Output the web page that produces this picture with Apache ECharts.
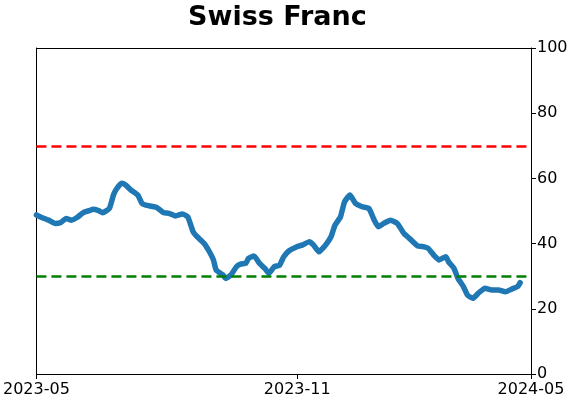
<!DOCTYPE html>
<html>
<head>
<meta charset="utf-8">
<script src="https://cdn.jsdelivr.net/npm/echarts@6/dist/echarts.min.js"></script>
<style>
  html, body { margin: 0; padding: 0; background: #fff; }
  #chart { width: 571px; height: 402px; }
</style>
</head>
<body>
<div id="chart"></div>
<script>
// days since 2023-05-01 and the indicator reading on that day
const days = [0, 4, 9, 14, 18, 22, 26, 30, 35, 39, 42, 46, 49, 54, 57, 59, 63, 66, 70,
  75, 78, 81, 89, 94, 98, 103, 108, 112, 116, 119, 124, 128, 131, 133, 138, 140, 144,
  148, 151, 155, 157, 161, 165, 169, 172, 176, 180, 183, 187, 192, 197, 202, 205, 209,
  214, 218, 221, 225, 228, 232, 236, 241, 246, 250, 253, 257, 262, 267, 272, 276, 282,
  287, 290, 294, 298, 303, 305, 309, 312, 316, 319, 323, 327, 332, 337, 342, 347, 352,
  356, 358]
const values = [48.8, 48.0, 47.2, 46.2, 46.5, 47.7, 47.2, 48.0, 49.6, 50.1, 50.5, 50.1,
  49.5, 50.8, 54.9, 56.6, 58.5, 58.0, 56.4, 54.9, 52.4, 51.8, 51.1, 49.5, 49.3, 48.5,
  49.1, 48.2, 43.6, 42.1, 40.1, 37.5, 35.0, 31.9, 30.4, 29.3, 30.4, 32.9, 33.7, 34.0,
  35.5, 36.2, 34.0, 32.4, 30.9, 32.9, 33.4, 36.0, 37.8, 38.9, 39.6, 40.6, 39.6, 37.5,
  39.6, 42.1, 45.7, 48.2, 52.8, 54.9, 52.4, 51.3, 50.8, 47.2, 45.2, 46.2, 47.2, 46.2,
  43.1, 41.6, 39.3, 39.0, 38.5, 36.5, 35.0, 36.0, 34.4, 32.4, 29.3, 26.8, 24.2, 23.2,
  24.8, 26.3, 25.8, 25.8, 25.2, 26.1, 26.8, 28.0]
const tickDays = [0, 193, 366]
const tickLabels = ['2023-05', '2023-11', '2024-05']
const upperLevel = 70
const lowerLevel = 30

const chart = echarts.init(document.getElementById('chart'), null, { renderer: 'canvas' })
const font = 'DejaVu Sans'
const spine = { show: true, onZero: false, lineStyle: { color: '#000', width: 1 } }

chart.setOption({
  animation: false,
  title: {
    text: 'Swiss Franc',
    left: 183, top: -1,
    textStyle: { fontFamily: font, fontWeight: 'bold', fontSize: 27, color: '#000' }
  },
  grid: { left: 35, right: 40, top: 48, bottom: 28 },
  xAxis: [{
    type: 'value', min: 0, max: 366, position: 'bottom',
    axisLine: spine,
    axisTick: { show: true, inside: false, customValues: tickDays, length: 5, lineStyle: { color: '#000' } },
    axisLabel: {
      customValues: tickDays, margin: 8,
      fontFamily: font, fontSize: 16, color: '#000',
      formatter: v => tickLabels[tickDays.indexOf(v)]
    },
    splitLine: { show: false }
  }, {
    // top spine
    type: 'value', min: 0, max: 366, position: 'top',
    axisLine: spine, axisTick: { show: false }, axisLabel: { show: false }, splitLine: { show: false }
  }],
  yAxis: [{
    type: 'value', position: 'right', min: 0, max: 100, interval: 20,
    axisLine: spine,
    axisTick: { show: true, inside: false, length: 5, lineStyle: { color: '#000' } },
    axisLabel: { margin: 6, fontFamily: font, fontSize: 16, color: '#000' },
    splitLine: { show: false }
  }, {
    // left spine
    type: 'value', position: 'left', min: 0, max: 100,
    axisLine: spine, axisTick: { show: false }, axisLabel: { show: false }, splitLine: { show: false }
  }],
  series: [{
    type: 'line',
    data: days.map((d, i) => [d, values[i]]),
    showSymbol: false,
    smooth: 0.15,
    lineStyle: { color: '#1f77b4', width: 5.5, cap: 'round', join: 'round' },
    markLine: {
      silent: true, symbol: 'none', label: { show: false },
      data: [
        { yAxis: upperLevel, lineStyle: { color: '#ff0000', width: 2.5, type: [10, 5] } },
        { yAxis: lowerLevel, lineStyle: { color: '#008000', width: 2.5, type: [10, 5] } }
      ]
    },
    z: 3
  }]
})
</script>
</body>
</html>
